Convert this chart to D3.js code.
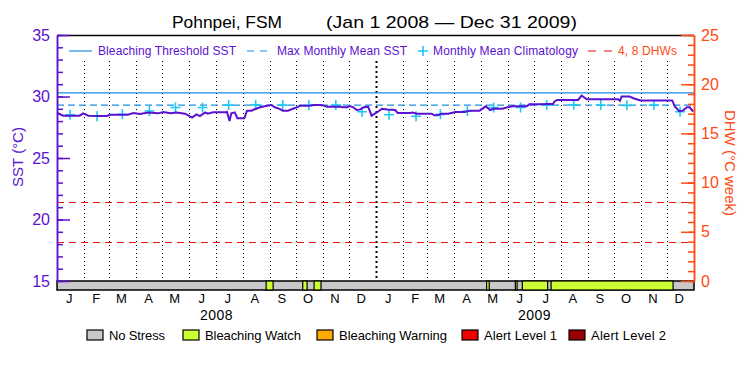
<!DOCTYPE html>
<html>
<head>
<meta charset="utf-8">
<script src="https://cdn.jsdelivr.net/npm/d3@7"></script>
<style>
    body { margin: 0; background: #fff; }
    svg { display: block; font-family: "Liberation Sans", Arial, sans-serif; }
</style>
</head>
<body>
<div id="chart"></div>
<script>
// days counted from 1 Jan 2008
const sstDay = [0, 7, 26, 30, 36, 57, 61, 81, 88, 95, 105, 116, 122, 130, 137, 147, 155, 160,
    164, 170, 173, 179, 193, 195, 198, 200, 204, 207, 215, 218, 223, 227, 233, 241, 246, 250,
    256, 259, 265, 270, 275, 279, 290, 294, 303, 308, 310, 325, 328, 333, 336, 340, 344, 348,
    352, 357, 361, 367, 373, 379, 388, 391, 399, 405, 408, 413, 420, 430, 433, 437, 441, 449,
    457, 468, 474, 485, 492, 497, 501, 511, 516, 522, 539, 542, 554, 563, 569, 571, 574, 598,
    602, 608, 644, 646, 648, 657, 663, 670, 706, 709, 714, 718, 723, 726, 730];
const sstValue = [28.68, 28.44, 28.44, 28.63, 28.44, 28.42, 28.52, 28.52, 28.65, 28.57, 28.70, 28.63, 28.73, 28.63, 28.70, 28.60, 28.28, 28.55,
    28.40, 28.71, 28.60, 28.71, 28.71, 28.76, 28.00, 28.63, 28.71, 28.23, 28.23, 28.85, 28.85, 28.96, 29.12, 29.25, 29.31, 29.12,
    28.98, 28.85, 28.85, 28.98, 29.12, 29.25, 29.25, 29.31, 29.31, 29.22, 29.17, 29.17, 29.12, 29.12, 29.22, 29.12, 28.90, 28.95,
    29.12, 29.17, 28.44, 28.70, 29.00, 28.95, 28.90, 28.66, 28.66, 28.66, 28.70, 28.60, 28.60, 28.60, 28.47, 28.47, 28.60, 28.60,
    28.74, 28.74, 28.85, 28.85, 29.20, 28.90, 29.00, 29.00, 29.10, 29.20, 29.20, 29.36, 29.36, 29.39, 29.39, 29.60, 29.72, 29.72,
    30.08, 29.78, 29.78, 29.65, 30.00, 30.00, 29.82, 29.68, 29.68, 29.20, 28.80, 28.85, 29.12, 29.12, 28.78];

const monthLetters = ["J", "F", "M", "A", "M", "J", "J", "A", "S", "O", "N", "D"];
const climValue = [28.52, 28.40, 28.55, 28.82, 29.10, 29.10, 29.30, 29.32, 29.30, 29.28, 29.30, 28.76];
const years = [2008, 2009];

const mmmSst = 29.3;
const thresholdSst = 30.3;
const dhwLevels = [4, 8];

const watchStart = ["2008-08-28", "2008-10-09", "2008-10-22", "2009-05-08", "2009-06-10", "2009-06-18", "2009-07-21"];
const watchEnd   = ["2008-09-05", "2008-10-14", "2008-10-30", "2009-05-11", "2009-06-12", "2009-07-17", "2009-12-08"];

const stressNames = ["No Stress", "Bleaching Watch", "Bleaching Warning", "Alert Level 1", "Alert Level 2"];
const stressColors = ["#c8c8c8", "#ccff33", "#ffaa00", "#ee0000", "#990000"];

const sstTicks = [15, 20, 25, 30, 35];
const dhwTicks = [0, 5, 10, 15, 20, 25];

const purple = "#5a12d0";
const orange = "#ff4a14";
const blue = "#1e8ee6";
const cyan = "#1ec8f5";

const W = 750, H = 375;
const L = 57, R = 694, T = 35, B = 281;

const svg = d3.select("#chart").append("svg").attr("width", W).attr("height", H);

const parse = d3.timeParse("%Y-%m-%d");
const start = new Date(2008, 0, 1);
const x = d3.scaleTime().domain([start, new Date(2010, 0, 1)]).range([L, R]);
const ySst = d3.scaleLinear().domain([15, 35]).range([B, T]);
const yDhw = d3.scaleLinear().domain([0, 25]).range([B, T]);

// title
svg.append("text").attr("x", 172).attr("y", 28).attr("font-size", 17)
    .attr("textLength", 110).attr("lengthAdjust", "spacingAndGlyphs").text("Pohnpei, FSM");
svg.append("text").attr("x", 326).attr("y", 28).attr("font-size", 17)
    .attr("textLength", 251).attr("lengthAdjust", "spacingAndGlyphs").text("(Jan 1 2008 \u2014 Dec 31 2009)");

// month dividers
const months = d3.timeMonth.range(d3.timeMonth.offset(start, 1), new Date(2010, 0, 1));
svg.append("g").selectAll("line")
    .data(months)
    .enter()
    .append("line")
        .attr("x1", d => Math.round(x(d)) + 0.5)
        .attr("x2", d => Math.round(x(d)) + 0.5)
        .attr("y1", 61).attr("y2", B)
        .attr("stroke", "#000")
        .attr("stroke-width", d => d.getMonth() === 0 ? 2 : 1)
        .attr("stroke-dasharray", d => d.getMonth() === 0 ? "2,3" : "1,3");

// DHW reference lines
svg.append("g").selectAll("line")
    .data(dhwLevels)
    .enter()
    .append("line")
        .attr("x1", L).attr("x2", R)
        .attr("y1", d => Math.round(yDhw(d)) + 0.5).attr("y2", d => Math.round(yDhw(d)) + 0.5)
        .attr("stroke", "#ee1111")
        .attr("stroke-dasharray", "7,5");

// threshold + MMM
svg.append("line").attr("x1", L).attr("x2", R)
    .attr("y1", ySst(thresholdSst)).attr("y2", ySst(thresholdSst))
    .attr("stroke", blue).attr("stroke-width", 1.3);
svg.append("line").attr("x1", L).attr("x2", R)
    .attr("y1", ySst(mmmSst)).attr("y2", ySst(mmmSst))
    .attr("stroke", blue).attr("stroke-width", 1.3).attr("stroke-dasharray", "7,4");

// climatology crosses
const climPts = [];
years.forEach(yr => climValue.forEach((v, m) => climPts.push({ date: new Date(yr, m, 16), v: v })));
svg.append("g").selectAll("path")
    .data(climPts)
    .enter()
    .append("path")
        .attr("d", d => {
            const cx = x(d.date), cy = ySst(d.v);
            return `M${cx - 5},${cy}H${cx + 5}M${cx},${cy - 5}V${cy + 5}`;
        })
        .attr("stroke", cyan)
        .attr("stroke-width", 1.6);

// SST line
const sstPts = sstDay.map((d, i) => ({ date: d3.timeDay.offset(start, d), v: sstValue[i] }));
svg.append("path")
    .datum(sstPts)
    .attr("d", d3.line().x(d => x(d.date)).y(d => ySst(d.v)))
    .attr("fill", "none")
    .attr("stroke", purple)
    .attr("stroke-width", 2);

// status bar
const bar = svg.append("g");
bar.append("rect").attr("x", L).attr("y", B).attr("width", R - L).attr("height", 9)
    .attr("fill", stressColors[0]).attr("stroke", "#000").attr("stroke-width", 1.5);
bar.selectAll("rect.watch")
    .data(watchStart.map((s, i) => ({ s: parse(s), e: parse(watchEnd[i]) })))
    .enter()
    .append("rect")
        .classed("watch", true)
        .attr("x", d => x(d.s))
        .attr("y", B)
        .attr("width", d => x(d.e) - x(d.s))
        .attr("height", 9)
        .attr("fill", stressColors[1])
        .attr("stroke", "#000")
        .attr("stroke-width", 1.2);

// frame top
svg.append("line").attr("x1", L).attr("x2", R).attr("y1", T + 0.5).attr("y2", T + 0.5)
    .attr("stroke", "#000").attr("stroke-width", 1.3);

// left axis
const minorSst = d3.range(15, 36, 1);
const left = svg.append("g").attr("transform", `translate(${L},0)`);
left.call(d3.axisLeft(ySst).tickValues(minorSst).tickSize(-6).tickSizeOuter(0).tickFormat(""));
left.call(g => g.append("g").call(d3.axisLeft(ySst).tickValues(sstTicks).tickSize(-13).tickSizeOuter(0).tickPadding(7)));
left.selectAll("path, line").attr("stroke", purple).attr("stroke-width", 1.5);
left.selectAll("text").attr("fill", purple).attr("font-size", 16).attr("font-family", "Liberation Sans, Arial, sans-serif");

svg.append("text")
    .attr("transform", `translate(23,157) rotate(-90)`)
    .attr("text-anchor", "middle")
    .attr("font-size", 15)
    .attr("fill", purple)
    .text("SST (\u00b0C)");

// right axis
const minorDhw = d3.range(0, 26, 1);
const right = svg.append("g").attr("transform", `translate(${R},0)`);
right.call(d3.axisRight(yDhw).tickValues(minorDhw).tickSize(-6).tickSizeOuter(0).tickFormat(""));
right.call(g => g.append("g").call(d3.axisRight(yDhw).tickValues(dhwTicks).tickSize(-13).tickSizeOuter(0).tickPadding(7)));
right.selectAll("path, line").attr("stroke", orange).attr("stroke-width", 1.5);
right.selectAll("text").attr("fill", orange).attr("font-size", 16).attr("font-family", "Liberation Sans, Arial, sans-serif");

svg.append("text")
    .attr("transform", `translate(725,163) rotate(90)`)
    .attr("text-anchor", "middle")
    .attr("font-size", 15)
    .attr("fill", orange)
    .text("DHW (\u00b0C week)");

// month + year labels
const mids = d3.timeMonth.range(start, new Date(2010, 0, 1)).map(d => new Date(d.getFullYear(), d.getMonth(), 15));
svg.append("g").selectAll("text")
    .data(mids)
    .enter()
    .append("text")
        .attr("x", d => x(d))
        .attr("y", 303)
        .attr("text-anchor", "middle")
        .attr("font-size", 13)
        .text(d => monthLetters[d.getMonth()]);
svg.append("g").selectAll("text")
    .data(years)
    .enter()
    .append("text")
        .attr("x", d => x(new Date(d, 6, 2)))
        .attr("y", 320)
        .attr("text-anchor", "middle")
        .attr("font-size", 14)
        .attr("letter-spacing", 0.5)
        .text(d => d);

// top legend
const lg = svg.append("g").attr("font-size", 12);
lg.append("line").attr("x1", 69).attr("x2", 92).attr("y1", 51).attr("y2", 51).attr("stroke", blue).attr("stroke-width", 1.2);
lg.append("text").attr("x", 98).attr("y", 55).attr("fill", purple).attr("textLength", 138).text("Bleaching Threshold SST");
lg.append("line").attr("x1", 247).attr("x2", 268).attr("y1", 51).attr("y2", 51).attr("stroke", blue).attr("stroke-width", 1.2).attr("stroke-dasharray", "7,6");
lg.append("text").attr("x", 277).attr("y", 55).attr("fill", purple).attr("textLength", 130).text("Max Monthly Mean SST");
lg.append("path").attr("d", "M418,51H428M423,46V56").attr("stroke", cyan).attr("stroke-width", 1.6);
lg.append("text").attr("x", 433).attr("y", 55).attr("fill", purple).attr("textLength", 145).text("Monthly Mean Climatology");
lg.append("line").attr("x1", 588).attr("x2", 612).attr("y1", 51).attr("y2", 51).attr("stroke", "#ee1111").attr("stroke-dasharray", "8,8");
lg.append("text").attr("x", 618).attr("y", 55).attr("fill", orange).attr("textLength", 59).text("4, 8 DHWs");

// bottom legend
const boxX = [87, 183, 317, 462, 569];
const textW = [56, 96, 108, 73, 75];
const bl = svg.append("g").selectAll("g")
    .data(stressNames)
    .enter()
    .append("g");
bl.append("rect")
    .attr("x", (d, i) => boxX[i]).attr("y", 330).attr("width", 16).attr("height", 10)
    .attr("fill", (d, i) => stressColors[i]).attr("stroke", "#000").attr("stroke-width", 1.2);
bl.append("text")
    .attr("x", (d, i) => boxX[i] + 22).attr("y", 340)
    .attr("font-size", 13)
    .attr("textLength", (d, i) => textW[i])
    .text(d => d);
</script>
</body>
</html>
